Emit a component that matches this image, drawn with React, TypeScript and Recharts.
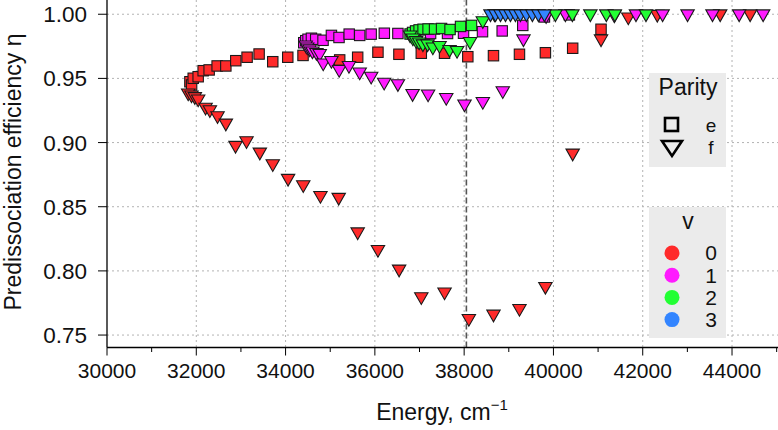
import React from 'react';
import { ScatterChart, Scatter, XAxis, YAxis, ReferenceLine, CartesianGrid } from 'recharts';

// ---- tick labels / axes ----
const xTicksAll = [30000, 31000, 32000, 33000, 34000, 35000, 36000, 37000, 38000, 39000, 40000, 41000, 42000, 43000, 44000, 45000];
const xTicksMajor = [30000, 32000, 34000, 36000, 38000, 40000, 42000, 44000];
const yTicks = [0.75, 0.8, 0.85, 0.9, 0.95, 1.0];
const thresholdEnergy = 38050;

// ---- data: [energy cm^-1, predissociation efficiency] ----
const v0e: [number, number][] = [
  [31857, 0.9474], [31895, 0.9449], [31931, 0.9501], [32042, 0.9513], [32154, 0.956], [32288, 0.9566],
  [32467, 0.9597], [32662, 0.9597], [32885, 0.9638], [33138, 0.9665], [33407, 0.969], [33713, 0.963],
  [34049, 0.9665], [34391, 0.9679], [35212, 0.9644], [35615, 0.9665], [36069, 0.9704], [36539, 0.9688],
  [37040, 0.9696], [37561, 0.9696], [38082, 0.9669], [38657, 0.9677], [39239, 0.9688], [39820, 0.97],
  [40431, 0.9735], [41066, 0.9883],
];
const v0f: [number, number][] = [
  [31819, 0.9378], [31893, 0.9363], [31967, 0.935], [32042, 0.9332], [32208, 0.9267], [32304, 0.9248],
  [32476, 0.9201], [32662, 0.9144], [32879, 0.897], [33125, 0.9006], [33423, 0.8918], [33713, 0.8827],
  [34056, 0.8713], [34396, 0.8663], [34781, 0.858], [35190, 0.8565], [35615, 0.8296], [36069, 0.8159],
  [36543, 0.8006], [37040, 0.7791], [37561, 0.7828], [38105, 0.7621], [38657, 0.7655], [39239, 0.7699],
  [39820, 0.7871], [40431, 0.891], [41066, 0.98], [41677, 0.9971], [42326, 0.9991], [43735, 0.9995],
  [44406, 0.9995],
];
const v1e: [number, number][] = [
  [34407, 0.9778], [34452, 0.9794], [34503, 0.9805], [34579, 0.9813], [34675, 0.9805], [34839, 0.9797],
  [35027, 0.9835], [35197, 0.9819], [35425, 0.9845], [35660, 0.9835], [35917, 0.9845], [36212, 0.9852],
  [36516, 0.985], [36845, 0.985], [37248, 0.985], [37628, 0.985], [37986, 0.9852], [38411, 0.9864],
  [38852, 0.987], [39313, 0.9913], [39798, 0.9979], [40357, 0.9995],
];
const v1f: [number, number][] = [
  [34452, 0.9753], [34485, 0.9737], [34541, 0.9722], [34602, 0.9706], [34691, 0.9694], [34765, 0.9686],
  [34843, 0.9612], [35027, 0.9632], [35201, 0.9562], [35420, 0.9593], [35660, 0.9542], [35917, 0.9509],
  [36208, 0.9462], [36516, 0.9451], [36845, 0.9374], [37192, 0.9371], [37599, 0.9343], [38008, 0.9293],
  [38418, 0.9312], [38865, 0.9396], [39328, 0.98], [39836, 0.9981], [40268, 0.9995], [41364, 0.9987],
  [41849, 0.9995], [42445, 0.9995], [43004, 0.9995], [43563, 0.9995], [44160, 0.9995], [44697, 0.9995],
];
const v2e: [number, number][] = [
  [36789, 0.9846], [36845, 0.9858], [36912, 0.987], [36991, 0.9878], [37080, 0.9883], [37192, 0.9885],
  [37337, 0.9885], [37494, 0.9889], [37684, 0.9881], [37919, 0.9905], [38165, 0.9913],
];
const v2f: [number, number][] = [
  [36789, 0.9831], [36852, 0.9807], [36923, 0.9788], [36991, 0.9776], [37076, 0.9761], [37181, 0.9761],
  [37299, 0.9737], [37449, 0.9749], [37673, 0.9718], [37841, 0.971], [38132, 0.978], [38418, 0.9942],
  [38680, 0.9995], [40044, 0.9995], [40424, 0.9995], [40827, 0.9995], [41185, 0.9995], [41375, 0.9995],
  [42073, 0.9995],
];
const v3f: [number, number][] = [
  [38590, 0.9995], [38702, 0.9995], [38814, 0.9995], [38926, 0.9995], [39037, 0.9995], [39149, 0.9995],
  [39261, 0.9995], [39395, 0.9995], [39529, 0.9995], [39663, 0.9995], [39798, 0.9995],
];

const vLabels = ['0', '1', '2', '3'];
const vColors = ['#FF2A2A', '#FF1AFF', '#22FF33', '#3385FF'];
const parityLabels = ['e', 'f'];

const FONT = '"Liberation Sans", Arial, Helvetica, sans-serif';
const TICK_SIZE = 8;
const TICK_MARGIN = 8;

const toPts = (arr: [number, number][]) => arr.map(([x, y]) => ({ x, y }));

const Square = (color: string) => (p: any) => (
  <rect x={p.cx - 5.2} y={p.cy - 5.2} width={10.4} height={10.4} fill={color} stroke="#1a1a1a" strokeWidth={1.1} />
);
const TriDown = (color: string) => (p: any) => (
  <polygon
    points={`${p.cx - 6.7},${p.cy - 5} ${p.cx + 6.7},${p.cy - 5} ${p.cx},${p.cy + 6.7}`}
    fill={color}
    stroke="#1a1a1a"
    strokeWidth={1.1}
    strokeLinejoin="miter"
  />
);

const XTick = (props: any) => {
  const { x, y, payload } = props;
  const v = payload.value;
  const major = v % 2000 === 0;
  const axisY = y - TICK_SIZE - TICK_MARGIN;
  return (
    <g>
      <line x1={x} x2={x} y1={axisY} y2={axisY + (major ? 8 : 4.5)} stroke="#000" strokeWidth={1} />
      {major && v <= 44000 ? (
        <text x={x} y={y} dy="0.71em" textAnchor="middle" fontSize={21} fill="#111" fontFamily={FONT}>
          {v}
        </text>
      ) : null}
    </g>
  );
};

const YTick = (props: any) => {
  const { x, y, payload } = props;
  return (
    <text x={x} y={y} dy="0.355em" textAnchor="end" fontSize={22.5} fill="#111" fontFamily={FONT}>
      {payload.value.toFixed(2)}
    </text>
  );
};

export default function App() {
  const series = [
    { d: v0e, c: vColors[0], s: 'sq' },
    { d: v0f, c: vColors[0], s: 'tri' },
    { d: v1e, c: vColors[1], s: 'sq' },
    { d: v1f, c: vColors[1], s: 'tri' },
    { d: v2e, c: vColors[2], s: 'sq' },
    { d: v2f, c: vColors[2], s: 'tri' },
    { d: v3f, c: vColors[3], s: 'tri' },
  ];
  return (
    <div style={{ position: 'absolute', left: 0, top: 0, width: 778, height: 430, background: '#fff', fontFamily: FONT }}>
      <ScatterChart width={778} height={430} margin={{ top: 0, right: 0, left: 0, bottom: 0 }}>
        <CartesianGrid
          stroke="#b3b3b3"
          strokeDasharray="2 3"
          verticalValues={xTicksMajor.slice(1)}
          horizontalValues={yTicks}
        />
        <XAxis
          type="number"
          dataKey="x"
          domain={[30000, 45030]}
          ticks={xTicksAll}
          interval={0}
          allowDataOverflow
          height={82.5}
          tickSize={TICK_SIZE}
          tickMargin={TICK_MARGIN}
          tickLine={false}
          axisLine={{ stroke: '#000', strokeWidth: 1.3 }}
          tick={<XTick />}
          label={{
            content: () => (
              <text x={442} y={420} textAnchor="middle" fontSize={23} fill="#111" fontFamily={FONT}>
                Energy, cm
                <tspan dy={-10} fontSize={15}>−1</tspan>
              </text>
            ),
          }}
        />
        <YAxis
          type="number"
          dataKey="y"
          domain={[0.7403, 1.0111]}
          ticks={yTicks}
          interval={0}
          allowDataOverflow
          width={107}
          tickSize={9}
          tickMargin={11}
          tickLine={{ stroke: '#000', strokeWidth: 1 }}
          axisLine={{ stroke: '#000', strokeWidth: 1.3 }}
          tick={<YTick />}
          label={{
            content: () => (
              <text
                x={21}
                y={172}
                transform="rotate(-90 21 172)"
                textAnchor="middle"
                fontSize={23}
                fill="#111"
                fontFamily={FONT}
              >
                Predissociation efficiency η
              </text>
            ),
          }}
        />
        {series.map((s, i) => (
          <Scatter
            key={i}
            data={toPts(s.d)}
            isAnimationActive={false}
            shape={s.s === 'sq' ? Square(s.c) : TriDown(s.c)}
          />
        ))}
        <ReferenceLine x={thresholdEnergy} stroke="#555" strokeWidth={1.6} strokeDasharray="6 3" />
      </ScatterChart>
      <svg
        width={778}
        height={430}
        style={{ position: 'absolute', left: 0, top: 0, pointerEvents: 'none' }}
        fontFamily={FONT}
      >
        <rect x={649} y={73} width={77} height={94} fill="#ebebeb" />
        <text x={688} y={95} textAnchor="middle" fontSize={23} fill="#111">Parity</text>
        <rect x={665} y={118} width={13} height={13} fill="none" stroke="#000" strokeWidth={2.6} />
        <text x={711} y={125} dy="0.355em" textAnchor="middle" fontSize={19} fill="#111">{parityLabels[0]}</text>
        <polygon points="662,141 682,141 672,156" fill="none" stroke="#000" strokeWidth={2.6} strokeLinejoin="miter" />
        <text x={711} y={147} dy="0.355em" textAnchor="middle" fontSize={19} fill="#111">{parityLabels[1]}</text>

        <rect x={649} y={207} width={77} height={131} fill="#ebebeb" />
        <text x={688} y={229} textAnchor="middle" fontSize={23} fill="#111">v</text>
        {vLabels.map((l, i) => (
          <g key={l}>
            <circle cx={672} cy={253 + i * 22.2} r={7.5} fill={vColors[i]} />
            <text x={711} y={253 + i * 22.2} dy="0.355em" textAnchor="middle" fontSize={21} fill="#111">{l}</text>
          </g>
        ))}
      </svg>
    </div>
  );
}
